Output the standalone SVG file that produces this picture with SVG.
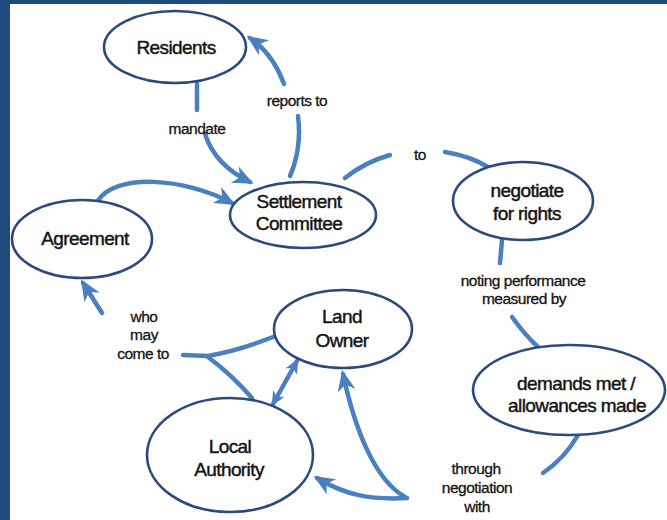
<svg xmlns="http://www.w3.org/2000/svg" width="667" height="520" viewBox="0 0 667 520">
<style>
.node ellipse{fill:#fff;stroke:#2b4a7e;stroke-width:2.6}
.node text{font-family:"Liberation Sans",Arial,sans-serif;font-size:19px;fill:#141414;stroke:#141414;stroke-width:0.45;text-anchor:middle;letter-spacing:-0.6px}
.lbl{font-family:"Liberation Sans",Arial,sans-serif;font-size:15.5px;fill:#141414;stroke:#141414;stroke-width:0.3;text-anchor:middle;letter-spacing:-0.5px}
#connectors path{fill:none;stroke:#4a7fc0;stroke-width:4.5;stroke-linecap:round}
</style>
<defs>
<marker id="arr" markerUnits="userSpaceOnUse" markerWidth="22" markerHeight="20" refX="17" refY="9" orient="auto">
<path d="M0,0 L21,9 L0,18 L6,9 z" fill="#4a7fc0"/>
</marker>
<marker id="arrS" markerUnits="userSpaceOnUse" markerWidth="16" markerHeight="14" refX="12" refY="6.5" orient="auto-start-reverse">
<path d="M0,0 L15,6.5 L0,13 L4,6.5 z" fill="#4a7fc0"/>
</marker>
</defs>
<rect x="0" y="0" width="667" height="520" fill="#fff"/>
<rect x="0" y="0" width="667" height="4" fill="#1f4a7d"/>
<rect x="0" y="0" width="10" height="520" fill="#1f4a7d"/>
<g id="connectors">
<path d="M197,84 L197,110"/>
<path d="M205,134 Q215,165 250,182" marker-end="url(#arr)"/>
<path d="M290,176 Q302,148 298,116"/>
<path d="M284,84 Q273,54 250,38" marker-end="url(#arr)"/>
<path d="M97,202 C115,172 185,178 232,203" marker-end="url(#arr)"/>
<path d="M345,178 Q365,162 390,155"/>
<path d="M445,152 Q470,156 488,167"/>
<path d="M502,240 L500,263"/>
<path d="M512,317 Q525,335 538,347"/>
<path d="M578,435 Q565,458 543,473"/>
<path d="M407,498 C370,500 345,495 317,478" marker-end="url(#arr)"/>
<path d="M405,497 C375,480 355,430 343,374" marker-end="url(#arr)"/>
<path d="M297,361 L273,404" stroke-width="3.5" marker-start="url(#arrS)" marker-end="url(#arrS)"/>
<path d="M183,355 L208,356 Q240,350 273,337"/>
<path d="M208,357 Q232,375 252,398"/>
<path d="M102,313 L83,283" marker-end="url(#arr)"/>
</g>
<g id="connector-labels">
<text class="lbl" x="197" y="134">mandate</text>
<text class="lbl" x="297" y="106">reports to</text>
<text class="lbl" x="420" y="160">to</text>
<text class="lbl" x="523" y="286">noting performance</text>
<text class="lbl" x="524" y="304">measured by</text>
<text class="lbl" x="144" y="322">who</text>
<text class="lbl" x="144" y="340">may</text>
<text class="lbl" x="143" y="359">come to</text>
<text class="lbl" x="476" y="474">through</text>
<text class="lbl" x="477" y="493">negotiation</text>
<text class="lbl" x="477" y="512">with</text>
</g>
<g id="residents" class="node">
<ellipse cx="175" cy="47" rx="71" ry="36"/>
<text x="176" y="54">Residents</text>
</g>
<g id="settlement-committee" class="node">
<ellipse cx="303" cy="215" rx="73" ry="33"/>
<text x="299" y="208">Settlement</text>
<text x="299" y="230">Committee</text>
</g>
<g id="agreement" class="node">
<ellipse cx="82" cy="239" rx="70" ry="39"/>
<text x="85" y="245">Agreement</text>
</g>
<g id="negotiate" class="node">
<ellipse cx="523" cy="201" rx="70" ry="39"/>
<text x="527" y="197">negotiate</text>
<text x="527" y="220">for rights</text>
</g>
<g id="land-owner" class="node">
<ellipse cx="343" cy="329" rx="69" ry="39"/>
<text x="342" y="323">Land</text>
<text x="342" y="347">Owner</text>
</g>
<g id="local-authority" class="node">
<ellipse cx="230" cy="455" rx="83" ry="57"/>
<text x="230" y="453">Local</text>
<text x="229" y="476">Authority</text>
</g>
<g id="demands" class="node">
<ellipse cx="569" cy="390" rx="96" ry="45"/>
<text x="576" y="390">demands met /</text>
<text x="577" y="412">allowances made</text>
</g>
</svg>
